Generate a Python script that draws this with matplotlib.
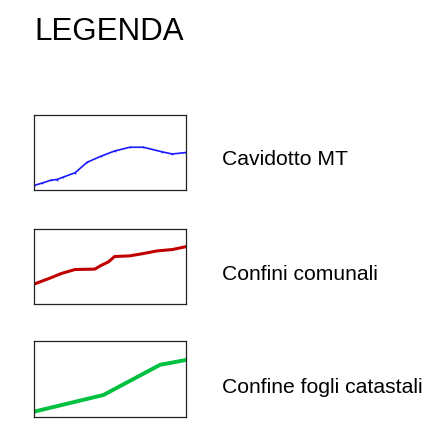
import matplotlib
matplotlib.use("Agg")
import matplotlib.pyplot as plt

plt.rcParams['font.family'] = ['Liberation Sans', 'DejaVu Sans']

title = "LEGENDA"
labels = ["Cavidotto MT", "Confini comunali", "Confine fogli catastali"]

# line samples drawn inside each legend box (0-100 box units)
cav_x = [0, 5, 11, 15, 19, 27, 35, 44, 53, 63, 72, 84, 91, 100]
cav_y = [6, 9, 13, 14, 17, 23, 37, 45, 52, 57, 57, 51, 48, 50]
com_x = [0, 10.5, 18, 27, 40, 44, 49, 53, 63, 72, 81, 91, 100]
com_y = [26.5, 34.5, 40.7, 46, 46.5, 51.3, 56.2, 63.3, 64.2, 67.3, 70.8, 72.6, 76.5]
cat_x = [0, 45.7, 83, 100]
cat_y = [7, 29, 68.7, 75]

W, H = 444, 427
fig = plt.figure(figsize=(W / 100, H / 100), dpi=100)
fig.patch.set_facecolor('white')

fig.text(34 / W, 1 - 40 / H, title, fontsize=22.5, va='baseline', ha='left')

boxes = [(116, 191), (230, 305), (342, 418)]
series = [
    (cav_x, cav_y, dict(color='#1a1aff', lw=1.2, marker='+', ms=2, mew=0.6)),
    (com_x, com_y, dict(color='#c00000', lw=2.2)),
    (cat_x, cat_y, dict(color='#00c040', lw=2.8)),
]
baselines = [165, 280, 393]

for (top, bot), (xs, ys, style), lab, base in zip(boxes, series, labels, baselines):
    ax = fig.add_axes([34 / W, 1 - bot / H, 152 / W, (bot - top) / H])
    ax.plot(xs, ys, solid_joinstyle='round', **style)
    ax.set_xlim(0, 100)
    ax.set_ylim(0, 100)
    ax.set_xticks([])
    ax.set_yticks([])
    for sp in ax.spines.values():
        sp.set_linewidth(0.9)
        sp.set_color('#222222')
    fig.text(222 / W, 1 - base / H, lab, fontsize=15.2, va='baseline', ha='left')

fig.savefig('out.png', dpi=100)
